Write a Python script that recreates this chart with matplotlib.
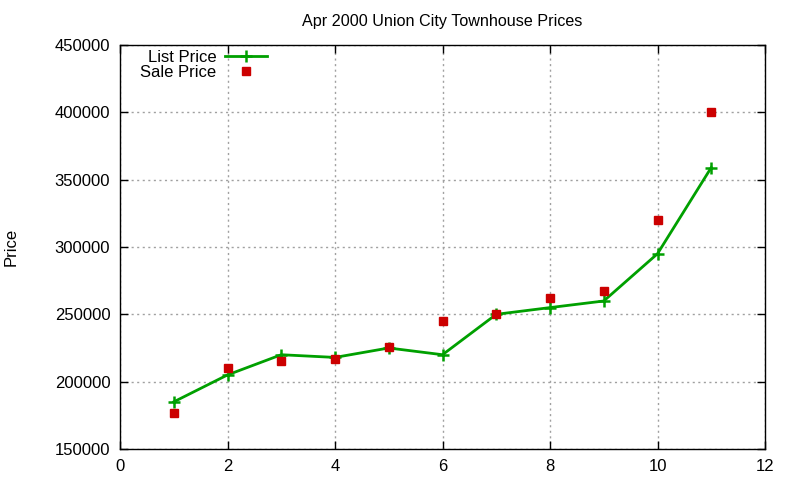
import matplotlib
matplotlib.use("Agg")
import matplotlib.pyplot as plt
from matplotlib.ticker import MultipleLocator

plt.rcParams['font.family'] = ['Liberation Sans', 'DejaVu Sans']

x = [1, 2, 3, 4, 5, 6, 7, 8, 9, 10, 11]
list_price = [185000, 205000, 220000, 218000, 225000, 220000, 250000, 255000, 259900, 295000, 359000]
sale_price = [177000, 210000, 215000, 217000, 226000, 245000, 250500, 262000, 267500, 320000, 400000]

fig = plt.figure(figsize=(8, 4.8), dpi=100)
ax = fig.add_axes([0.15, 0.0646, 0.80625, 0.84165])

ax.plot(x, list_price, color='#00a000', lw=2, marker='+', ms=8, mew=1.8, label='List Price')
ax.plot(x, sale_price, color='#cc0000', ls='none', marker='s', ms=6, label='Sale Price')

ax.set_xlim(0, 12)
ax.set_ylim(150000, 450000)
ax.xaxis.set_major_locator(MultipleLocator(2))
ax.yaxis.set_major_locator(MultipleLocator(50000))
ax.tick_params(direction='in', length=6, width=1, top=True, right=True, labelsize=12, pad=7)
ax.grid(True, color='#a0a0a0', ls=(0, (1.5, 2.5)), lw=1)
for s in ax.spines.values():
    s.set_linewidth(1)

ax.set_title('Apr 2000 Union City Townhouse Prices', fontsize=11.6, pad=14)
ax.set_ylabel('Price', fontsize=12, labelpad=26)

ax.legend(loc='upper right', frameon=False, markerfirst=False, fontsize=12,
          borderaxespad=0.0, borderpad=0.0, handlelength=2.5, handletextpad=0.55,
          labelspacing=0.0, bbox_to_anchor=(0.228, 0.988))

fig.savefig('out.png', dpi=100)
